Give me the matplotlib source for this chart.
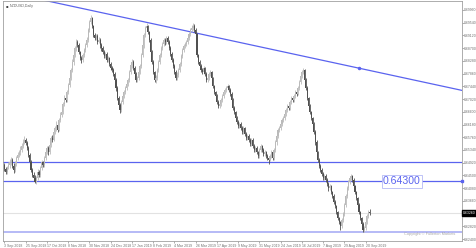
import matplotlib
matplotlib.use("Agg")
import matplotlib.pyplot as plt
import numpy as np

# NZDUSD daily candles, prices in pips (0.0001)
opens = [6482,6470,6462,
         6478,6484,6494,6501,6481,6468,6488,6507,6517,6527,
         6534,6547,6560,6567,6557,6540,6517,6494,6468,6451,
         6442,6428,6442,6461,6451,6474,6494,6484,6507,6527,
         6540,6527,6550,6573,6567,6593,6606,6616,6600,6633,
         6649,6659,6686,6705,6699,6725,6748,6771,6798,6824,
         6847,6870,6890,6880,6857,6837,6831,6847,6864,6880,
         6897,6930,6956,6969,6943,6913,6903,6910,6890,6897,
         6880,6870,6857,6844,6851,6831,6837,6818,6804,6798,
         6785,6765,6738,6705,6682,6666,6692,6712,6725,6738,
         6752,6765,6791,6814,6824,6804,6785,6765,6771,6791,
         6811,6847,6880,6913,6936,6943,6923,6897,6857,6824,
         6791,6765,6771,6798,6824,6847,6870,6884,6897,6890,
         6903,6890,6870,6851,6831,6811,6791,6771,6781,6798,
         6818,6844,6864,6877,6884,6890,6903,6916,6930,6936,
         6943,6930,6916,6847,6824,6811,6798,6791,6804,6785,
         6765,6771,6785,6791,6771,6745,6725,6712,6692,6679,
         6686,6699,6712,6725,6732,6738,6745,6732,6719,6699,
         6672,6659,6639,6626,6613,6620,6606,6593,6606,6587,
         6573,6580,6567,6554,6567,6547,6534,6540,6527,6514,
         6534,6547,6534,6521,6527,6514,6507,6501,6514,6527,
         6507,6534,6560,6580,6600,6606,6619,6633,6639,6652,
         6666,6679,6672,6692,6705,6699,6712,6725,6719,6738,
         6758,6778,6791,6798,6765,6738,6705,6679,6659,6639,
         6620,6593,6560,6527,6501,6481,6468,6455,6442,6448,
         6435,6422,6408,6415,6395,6382,6362,6349,6329,6309,
         6296,6283,6303,6323,6352,6382,6408,6428,6442,6448,
         6435,6415,6395,6375,6352,6329,6309,6290,6270,6276,
         6296,6316,6329]
highs = [6490,6478,6482,
         6495,6503,6512,6506,6490,6497,6515,6528,6535,6546,
         6556,6571,6580,6574,6562,6548,6524,6500,6475,6460,
         6450,6448,6470,6468,6480,6502,6498,6515,6533,6548,
         6548,6556,6580,6584,6600,6614,6628,6620,6640,6660,
         6668,6694,6716,6712,6733,6756,6780,6806,6833,6858,
         6878,6899,6897,6886,6862,6845,6854,6872,6888,6906,
         6938,6964,6978,6974,6948,6920,6918,6916,6906,6902,
         6888,6877,6864,6858,6856,6844,6842,6824,6812,6803,
         6792,6772,6744,6712,6690,6698,6720,6732,6746,6760,
         6772,6798,6822,6834,6830,6810,6790,6778,6798,6818,
         6855,6888,6920,6944,6952,6948,6928,6902,6864,6830,
         6796,6780,6806,6830,6854,6878,6890,6905,6902,6910,
         6910,6896,6877,6858,6838,6818,6797,6790,6805,6826,
         6850,6871,6884,6892,6898,6910,6923,6937,6945,6952,
         6950,6938,6920,6852,6830,6818,6804,6810,6808,6790,
         6778,6792,6798,6796,6776,6750,6730,6718,6698,6692,
         6706,6718,6732,6740,6746,6752,6750,6738,6724,6704,
         6678,6664,6646,6632,6626,6626,6612,6612,6610,6592,
         6588,6586,6572,6574,6572,6554,6546,6546,6532,6540,
         6554,6552,6540,6534,6532,6520,6512,6520,6534,6532,
         6540,6566,6588,6608,6614,6626,6640,6646,6660,6672,
         6686,6684,6698,6712,6710,6718,6732,6730,6744,6764,
         6784,6798,6806,6802,6770,6744,6710,6686,6664,6644,
         6626,6600,6566,6532,6508,6488,6474,6462,6456,6454,
         6442,6428,6422,6420,6400,6388,6368,6354,6334,6314,
         6300,6310,6330,6358,6388,6414,6434,6448,6456,6452,
         6440,6420,6400,6380,6358,6334,6314,6296,6284,6302,
         6322,6336,6338]
lows = [6464,6455,6456,
        6470,6476,6486,6474,6458,6462,6480,6500,6510,6519,
        6528,6540,6553,6549,6533,6510,6487,6460,6444,6433,
        6424,6422,6436,6444,6446,6468,6477,6478,6500,6520,
        6518,6522,6544,6560,6562,6586,6598,6594,6596,6626,
        6642,6652,6679,6692,6694,6718,6742,6764,6790,6816,
        6840,6862,6874,6850,6830,6822,6826,6840,6858,6874,
        6892,6924,6950,6938,6906,6896,6898,6884,6886,6872,
        6862,6850,6838,6838,6824,6826,6812,6797,6790,6777,
        6758,6730,6698,6674,6655,6660,6686,6705,6718,6732,
        6745,6758,6784,6806,6798,6778,6758,6758,6765,6784,
        6805,6840,6872,6906,6928,6916,6890,6850,6817,6784,
        6758,6756,6765,6790,6818,6840,6864,6876,6882,6884,
        6884,6864,6844,6824,6804,6784,6764,6765,6775,6792,
        6812,6837,6858,6870,6878,6884,6896,6910,6924,6930,
        6924,6910,6840,6818,6804,6790,6784,6786,6778,6758,
        6758,6764,6778,6765,6738,6718,6705,6685,6672,6672,
        6680,6692,6706,6718,6726,6732,6726,6712,6692,6665,
        6652,6632,6620,6606,6606,6600,6586,6588,6580,6566,
        6566,6560,6548,6548,6540,6527,6528,6520,6506,6508,
        6528,6528,6514,6515,6508,6500,6488,6496,6508,6500,
        6502,6528,6552,6574,6594,6600,6612,6626,6634,6646,
        6660,6666,6666,6686,6692,6692,6706,6712,6714,6732,
        6752,6772,6786,6760,6732,6698,6672,6652,6632,6612,
        6586,6552,6520,6494,6474,6460,6448,6435,6436,6428,
        6415,6400,6402,6388,6375,6355,6342,6322,6302,6289,
        6270,6276,6296,6316,6346,6376,6402,6422,6436,6428,
        6408,6388,6368,6345,6322,6302,6283,6264,6262,6270,
        6290,6310,6318]
closes = [6470,6462,6478,
          6484,6494,6501,6481,6468,6488,6507,6517,6527,6534,
          6547,6560,6567,6557,6540,6517,6494,6468,6451,6442,
          6428,6442,6461,6451,6474,6494,6484,6507,6527,6540,
          6527,6550,6573,6567,6593,6606,6616,6600,6633,6649,
          6659,6686,6705,6699,6725,6748,6771,6798,6824,6847,
          6870,6890,6880,6857,6837,6831,6847,6864,6880,6897,
          6930,6956,6969,6943,6913,6903,6910,6890,6897,6880,
          6870,6857,6844,6851,6831,6837,6818,6804,6798,6785,
          6765,6738,6705,6682,6666,6692,6712,6725,6738,6752,
          6765,6791,6814,6824,6804,6785,6765,6771,6791,6811,
          6847,6880,6913,6936,6943,6923,6897,6857,6824,6791,
          6765,6771,6798,6824,6847,6870,6884,6897,6890,6903,
          6890,6870,6851,6831,6811,6791,6771,6781,6798,6818,
          6844,6864,6877,6884,6890,6903,6916,6930,6936,6943,
          6930,6916,6847,6824,6811,6798,6791,6804,6785,6765,
          6771,6785,6791,6771,6745,6725,6712,6692,6679,6686,
          6699,6712,6725,6732,6738,6745,6732,6719,6699,6672,
          6659,6639,6626,6613,6620,6606,6593,6606,6587,6573,
          6580,6567,6554,6567,6547,6534,6540,6527,6514,6534,
          6547,6534,6521,6527,6514,6507,6501,6514,6527,6507,
          6534,6560,6580,6600,6606,6619,6633,6639,6652,6666,
          6679,6672,6692,6705,6699,6712,6725,6719,6738,6758,
          6778,6791,6798,6765,6738,6705,6679,6659,6639,6620,
          6593,6560,6527,6501,6481,6468,6455,6442,6448,6435,
          6422,6408,6415,6395,6382,6362,6349,6329,6309,6296,
          6283,6303,6323,6352,6382,6408,6428,6442,6448,6435,
          6415,6395,6375,6352,6329,6309,6290,6270,6276,6296,
          6316,6329,6326]

date_labels = ["3 Sep 2018", "25 Sep 2018", "17 Oct 2018", "8 Nov 2018",
               "30 Nov 2018", "24 Dec 2018", "17 Jan 2019", "8 Feb 2019",
               "4 Mar 2019", "26 Mar 2019", "17 Apr 2019", "9 May 2019",
               "31 May 2019", "24 Jun 2019", "16 Jul 2019", "7 Aug 2019",
               "29 Aug 2019", "20 Sep 2019"]
date_bars = [0, 16, 32, 48, 64, 80, 96, 112, 128, 144, 160, 176,
             192, 208, 224, 240, 256, 272]

price_ticks = [0.6240, 0.6282, 0.6324, 0.6366, 0.6408, 0.6450, 0.6492,
               0.6534, 0.6576, 0.6618, 0.6660, 0.6702, 0.6744, 0.6786,
               0.6828, 0.6870, 0.6912, 0.6954, 0.6996]

level_main = 0.6430
level_upper = 0.6494
level_lower = 0.6264
trend_bars = [66, 267]
trend_prices = [0.6994, 0.6804]

o = np.array(opens) / 10000
h = np.array(highs) / 10000
l = np.array(lows) / 10000
c = np.array(closes) / 10000
x = np.arange(len(c))

FONT = ['Liberation Sans', 'DejaVu Sans']
fig = plt.figure(figsize=(4.76, 2.48), dpi=100)
ax = fig.add_axes([3 / 476, 7 / 248, 458.5 / 476, 240 / 248])

up = c >= o
col = np.where(up, '#bababa', '#505050')
ax.vlines(x, l, h, colors=col, linewidth=0.6, zorder=3)
ax.bar(x, np.abs(c - o) + 0.00008, bottom=np.minimum(o, c), width=0.8,
       color=col, linewidth=0, zorder=3)

# horizontal levels
blue = '#5a63ef'
ax.axhline(level_upper, color=blue, linewidth=0.9, zorder=2)
ax.axhline(level_main, color=blue, linewidth=0.9, zorder=2)
ax.axhline(level_lower, color='#a9aef5', linewidth=1.2, zorder=2)
ax.axhline(c[-1], color='#e2e2e2', linewidth=0.8, zorder=1)
ax.plot([344.2], [level_main], marker='s', ms=2, color=blue, clip_on=False, zorder=4)

# trendline, extended over the whole chart
slope = (trend_prices[1] - trend_prices[0]) / (trend_bars[1] - trend_bars[0])
tx = np.array([-10, 360])
ax.plot(tx, trend_prices[0] + slope * (tx - trend_bars[0]), color=blue, linewidth=0.9, zorder=2)
ax.plot([trend_bars[1]], [trend_prices[1]], marker='o', ms=1.5, color=blue, zorder=4)

ax.text(285, level_main, '0.64300', color=blue, fontsize=7.6, family=FONT,
        va='center', ha='left',
        bbox=dict(boxstyle='square,pad=0.12', fc='white', ec='#b4b9f5', lw=0.6), zorder=5)

ax.text(0.986, 0.03, 'Copyright \u00a9 Fullerton Markets', transform=ax.transAxes,
        fontsize=2.8, family=FONT, color='#a8a8a8', ha='right', va='center')
ax.text(0.006, 0.978, '\u25aa', transform=ax.transAxes,
        fontsize=2.7, color='#404040', ha='left', va='center')
ax.text(0.014, 0.978, 'NZDUSD,Daily', transform=ax.transAxes,
        fontsize=2.6, family=FONT, color='#606060', ha='left', va='center')

ax.set_xlim(-1.1, 344.2)
ax.set_ylim(0.62336, 0.70257)

ax.yaxis.tick_right()
ax.set_yticks(price_ticks)
ax.set_yticklabels(['' if abs(v - 0.6324) < 1e-6 else f'{v:.5f}' for v in price_ticks])
ax.set_xticks(date_bars)
ax.set_xticklabels(date_labels, ha='left')
ax.tick_params(axis='both', labelsize=2.5, colors='#707070', length=1.3, width=0.4, pad=0.6)
for t in ax.get_xticklabels() + ax.get_yticklabels():
    t.set_family(FONT)

ax.text(1.004, c[-1], f'{c[-1]:.5f}', transform=ax.get_yaxis_transform(), fontsize=2.5,
        family=FONT, color='white', va='center', ha='left',
        bbox=dict(boxstyle='square,pad=0.25', fc='black', ec='black'))

for s in ax.spines.values():
    s.set_color('#a0a0a0')
    s.set_linewidth(0.6)

fig.savefig('out.png', dpi=100)
